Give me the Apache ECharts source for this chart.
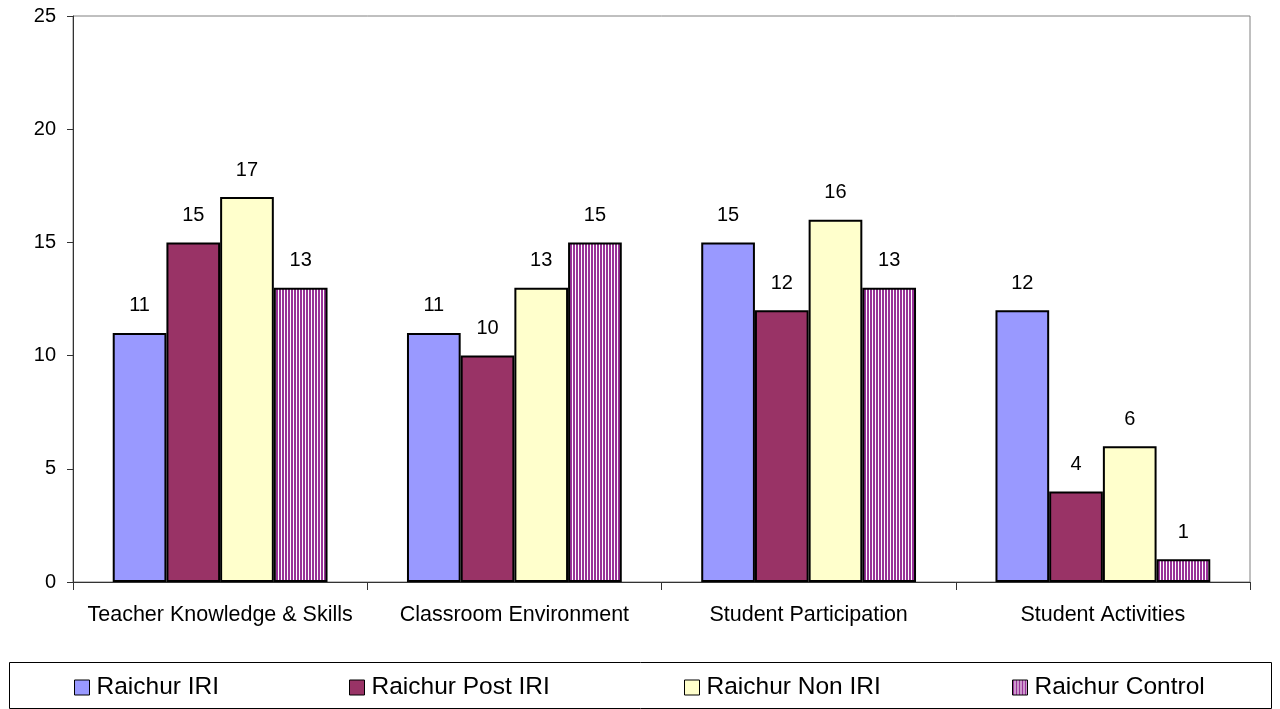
<!DOCTYPE html>
<html>
<head>
<meta charset="utf-8">
<script src="https://cdn.jsdelivr.net/npm/echarts@6/dist/echarts.min.js"></script>
<style>
  html, body { margin: 0; padding: 0; background: #fff; }
  #chart { width: 1280px; height: 709px; }
</style>
</head>
<body>
<div id="chart"></div>
<script>
// Observation scores by domain, Raichur district
const categories = ['Teacher Knowledge & Skills', 'Classroom Environment', 'Student Participation', 'Student Activities'];
const seriesNames = ['Raichur IRI', 'Raichur Post IRI', 'Raichur Non IRI', 'Raichur Control'];
const iriValues = [11, 11, 15, 12];
const postIriValues = [15, 10, 12, 4];
const nonIriValues = [17, 13, 16, 6];
const controlValues = [13, 15, 13, 1];
const yTicks = { min: 0, max: 25, interval: 5 };

// vertical purple stripes for the control group
function stripePattern() {
  const c = document.createElement('canvas');
  c.width = 3; c.height = 4;
  const ctx = c.getContext('2d');
  ctx.fillStyle = '#ffffff';
  ctx.fillRect(0, 0, 3, 4);
  ctx.fillStyle = '#993399';
  ctx.fillRect(0, 0, 2, 4);
  return c;
}

const fills = ['#9999ff', '#993366', '#ffffcc', { image: stripePattern(), repeat: 'repeat' }];
const valueSets = [iriValues, postIriValues, nonIriValues, controlValues];
const FONT = '"Liberation Sans", Arial, sans-serif';

const chart = echarts.init(document.getElementById('chart'), null, { renderer: 'canvas' });

const legendLefts = [74, 349, 684, 1012];
const legends = seriesNames.map((name, i) => ({
  data: [name],
  left: legendLefts[i],
  top: 675,
  orient: 'horizontal',
  itemWidth: 15,
  itemHeight: 15,
  itemGap: 0,
  icon: 'rect',
  selectedMode: false,
  padding: 0,
  textStyle: { fontFamily: FONT, fontSize: 24.5, color: '#000', padding: [0, 0, 0, 2] },
  itemStyle: { borderColor: '#000', borderWidth: 1 }
}));

chart.setOption({
  animation: false,
  backgroundColor: '#ffffff',
  grid: {
    left: 73, right: 30, top: 16, bottom: 127,
    show: true, borderColor: '#808080', borderWidth: 1
  },
  legend: legends,
  graphic: [{
    type: 'rect',
    shape: { x: 9.5, y: 662.5, width: 1262, height: 46 },
    style: { fill: 'none', stroke: '#000', lineWidth: 1 },
    silent: true
  }],
  xAxis: {
    type: 'category',
    data: categories,
    boundaryGap: true,
    axisLine: { lineStyle: { color: '#333', width: 1 } },
    axisTick: { show: true, interval: 0, length: 8, lineStyle: { color: '#333' } },
    axisLabel: { interval: 0, fontFamily: FONT, fontSize: 21.5, color: '#000', margin: 22 },
    splitLine: { show: false }
  },
  yAxis: {
    type: 'value',
    min: yTicks.min, max: yTicks.max, interval: yTicks.interval,
    axisLine: { show: true, lineStyle: { color: '#333', width: 1 } },
    axisTick: { show: true, length: 6, lineStyle: { color: '#333' } },
    axisLabel: { fontFamily: FONT, fontSize: 20, color: '#000', margin: 17 },
    splitLine: { show: false }
  },
  series: seriesNames.map((name, i) => ({
    name: name,
    type: 'bar',
    data: valueSets[i],
    barGap: '0%',
    barCategoryGap: '27%',
    itemStyle: { color: fills[i], borderColor: '#000', borderWidth: 2 },
    label: {
      show: true, position: 'top', distance: 17,
      fontFamily: FONT, fontSize: 20, color: '#000'
    }
  }))
});
</script>
</body>
</html>
